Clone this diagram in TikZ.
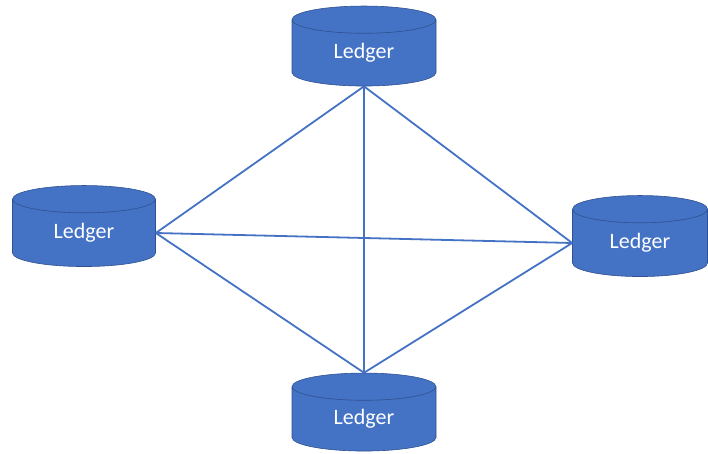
\documentclass[tikz,border=0pt]{standalone}
\usepackage{fontspec}
\setmainfont{Carlito}
\usetikzlibrary{shapes.geometric}
\definecolor{ledgerblue}{HTML}{4472C4}
\definecolor{ledgeredge}{HTML}{2F528F}
\begin{document}
\begin{tikzpicture}[x=1pt,y=-1pt,
  ledger/.style={cylinder, shape border rotate=90, aspect=0.45,
    draw=ledgeredge, fill=ledgerblue, text=white, line width=0.6pt,
    minimum width=144pt, minimum height=80pt, inner sep=0pt,
    font=\fontsize{22}{25}\selectfont},
  link/.style={draw=ledgerblue, line width=1.8pt}]
  \useasboundingbox (0,0) rectangle (708,454);
  \node[ledger] (top) at (364,53) {Ledger};
  \node[ledger, minimum width=143pt, minimum height=81pt] (left) at (84,233) {Ledger};
  \node[ledger, minimum width=135pt, minimum height=81pt] (right) at (640,243) {Ledger};
  \node[ledger, minimum height=78pt] (bottom) at (364,419) {Ledger};
  \draw[link] (top.south) -- (left.east);
  \draw[link] (top.south) -- (right.west);
  \draw[link] (top.south) -- (bottom.north);
  \draw[link] (left.east) -- (right.west);
  \draw[link] (left.east) -- (bottom.north);
  \draw[link] (right.west) -- (bottom.north);
\end{tikzpicture}
\end{document}
